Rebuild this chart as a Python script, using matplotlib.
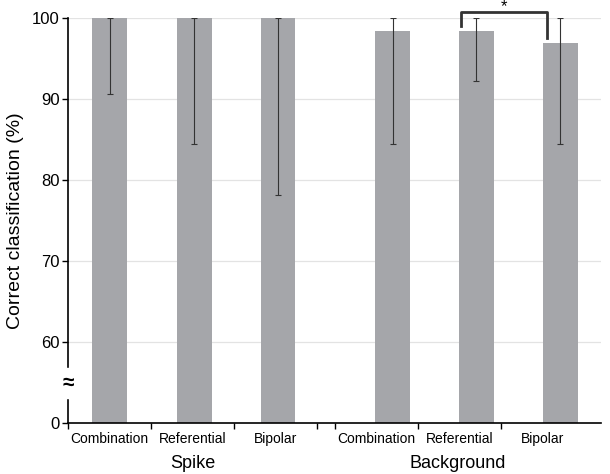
import numpy as np
import matplotlib.pyplot as plt

plt.rcParams['font.family'] = ['Liberation Sans', 'DejaVu Sans']

methods = ['Combination', 'Referential', 'Bipolar']
groups = ['Spike', 'Background']
# mean correct classification (%) and lower end of error bars
spike_vals = [100, 100, 100]
spike_low = [90.6, 84.4, 78.1]
spike_high = [100, 100, 100]
bg_vals = [98.4, 98.4, 96.9]
bg_low = [84.4, 92.2, 84.4]
bg_high = [100, 100, 100]

y_ticks = [60, 70, 80, 90, 100]
base = 50  # axis break: 0 is drawn at this level

# positions
spike_x = np.array([0.0, 1.02, 2.03])
bg_x = np.array([3.41, 4.42, 5.43])
bg_lab_x = np.array([3.22, 4.22, 5.22])

fig = plt.figure(figsize=(6.1, 4.74), dpi=100)
ax = fig.add_axes([0.1115, 0.1076, 0.8735, 0.8544])

bar_col = '#a5a6aa'
for xs, vals, lo, hi in [(spike_x, spike_vals, spike_low, spike_high),
                         (bg_x, bg_vals, bg_low, bg_high)]:
    vals = np.array(vals)
    ax.bar(xs, vals - base, bottom=base, width=0.42, color=bar_col, zorder=2)
    yerr = [vals - np.array(lo), np.array(hi) - vals]
    ax.errorbar(xs, vals, yerr=yerr, fmt='none', ecolor='#333333',
                elinewidth=0.8, capsize=2.5, capthick=0.8, zorder=3)

ax.set_xlim(-0.5, 5.92)
ax.set_ylim(base, 100)

ax.set_yticks([base] + y_ticks)
ax.set_yticklabels(['0'] + [str(t) for t in y_ticks], fontsize=12)
for t in y_ticks:
    ax.axhline(t, color='#e3e3e3', lw=0.9, zorder=1)

ax.set_xticks([-0.5, 0.5, 1.5, 2.5, 2.72, 3.72, 4.72])
ax.set_xticklabels([])
ax.tick_params(axis='x', length=4, width=1, direction='out')
ax.tick_params(axis='y', length=4, width=1, direction='out', pad=2)

for x, m in zip([0.0, 1.0, 2.0] + list(bg_lab_x), methods + methods):
    ax.text(x, 48.0, m, ha='center', va='center', fontsize=10)
ax.text(1.0, 44.95, groups[0], ha='center', va='center', fontsize=13)
ax.text(4.2, 44.95, groups[1], ha='center', va='center', fontsize=13)

ax.set_ylabel('Correct classification (%)', fontsize=14, labelpad=6)

for s in ['top', 'right']:
    ax.spines[s].set_visible(False)
ax.spines['left'].set_linewidth(1.2)
ax.spines['bottom'].set_linewidth(1.2)

# axis break mark
ax.text(-0.5, 54.9, '≈', ha='center', va='center', fontsize=15,
        fontweight='bold', backgroundcolor='white', zorder=5)

# significance bracket
x1, x2 = 4.23, 5.27
ax.plot([x1, x1, x2, x2], [99.0, 100.75, 100.75, 97.5], color='#333333',
        lw=2, clip_on=False, zorder=4)
ax.text((x1 + x2) / 2, 101.45, '*', ha='center', va='center', fontsize=12,
        clip_on=False)

plt.savefig('out.png', dpi=100)
